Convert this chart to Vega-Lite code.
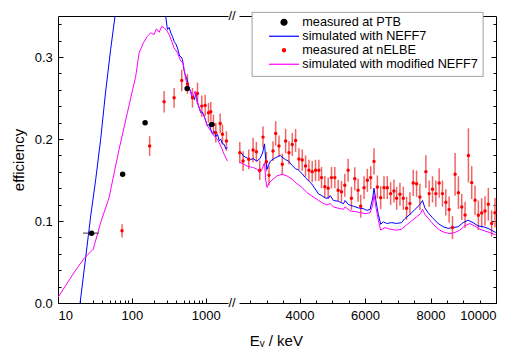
{
  "$schema": "https://vega.github.io/schema/vega-lite/v6.json",
  "padding": {"left": 11, "top": 10, "right": 0, "bottom": 0},
  "config": {
    "font": "Liberation Sans",
    "view": {"stroke": null},
    "axis": {"labelFont": "Liberation Sans", "labelFontSize": 13, "labelColor": "black", "titleFont": "Liberation Sans", "titleFontSize": 15, "titleFontWeight": "normal", "titleColor": "black", "domainColor": "black", "tickColor": "black", "grid": false, "domainWidth": 1, "tickWidth": 1}
  },
  "datasets": {
    "sim": [
      {"s": "simulated with NEFF7", "E": 19.9, "eff": 0},
      {"s": "simulated with NEFF7", "E": 23.7, "eff": 0.0555},
      {"s": "simulated with NEFF7", "E": 27.7, "eff": 0.1062},
      {"s": "simulated with NEFF7", "E": 32.4, "eff": 0.1509},
      {"s": "simulated with NEFF7", "E": 37.8, "eff": 0.1996},
      {"s": "simulated with NEFF7", "E": 44.2, "eff": 0.2584},
      {"s": "simulated with NEFF7", "E": 51.6, "eff": 0.3091},
      {"s": "simulated with NEFF7", "E": 59.1, "eff": 0.3497},
      {"s": "simulated with NEFF7", "E": 66, "eff": 0.39},
      {"s": "simulated with NEFF7", "E": 260, "eff": 0.39},
      {"s": "simulated with NEFF7", "E": 287, "eff": 0.3497},
      {"s": "simulated with NEFF7", "E": 303, "eff": 0.3335},
      {"s": "simulated with NEFF7", "E": 320, "eff": 0.336},
      {"s": "simulated with NEFF7", "E": 336, "eff": 0.3294},
      {"s": "simulated with NEFF7", "E": 355, "eff": 0.325},
      {"s": "simulated with NEFF7", "E": 373, "eff": 0.319},
      {"s": "simulated with NEFF7", "E": 394, "eff": 0.316},
      {"s": "simulated with NEFF7", "E": 414, "eff": 0.311},
      {"s": "simulated with NEFF7", "E": 430, "eff": 0.305},
      {"s": "simulated with NEFF7", "E": 445, "eff": 0.301},
      {"s": "simulated with NEFF7", "E": 465, "eff": 0.300},
      {"s": "simulated with NEFF7", "E": 484, "eff": 0.297},
      {"s": "simulated with NEFF7", "E": 505, "eff": 0.285},
      {"s": "simulated with NEFF7", "E": 526, "eff": 0.2787},
      {"s": "simulated with NEFF7", "E": 545, "eff": 0.275},
      {"s": "simulated with NEFF7", "E": 565, "eff": 0.2705},
      {"s": "simulated with NEFF7", "E": 595, "eff": 0.262},
      {"s": "simulated with NEFF7", "E": 627, "eff": 0.2584},
      {"s": "simulated with NEFF7", "E": 650, "eff": 0.250},
      {"s": "simulated with NEFF7", "E": 675, "eff": 0.2523},
      {"s": "simulated with NEFF7", "E": 705, "eff": 0.248},
      {"s": "simulated with NEFF7", "E": 733, "eff": 0.2563},
      {"s": "simulated with NEFF7", "E": 765, "eff": 0.246},
      {"s": "simulated with NEFF7", "E": 797, "eff": 0.2401},
      {"s": "simulated with NEFF7", "E": 825, "eff": 0.236},
      {"s": "simulated with NEFF7", "E": 856, "eff": 0.232},
      {"s": "simulated with NEFF7", "E": 900, "eff": 0.233},
      {"s": "simulated with NEFF7", "E": 950, "eff": 0.228},
      {"s": "simulated with NEFF7", "E": 1000, "eff": 0.222},
      {"s": "simulated with NEFF7", "E": 1054, "eff": 0.2158},
      {"s": "simulated with NEFF7", "E": 1110, "eff": 0.218},
      {"s": "simulated with NEFF7", "E": 1169, "eff": 0.2117},
      {"s": "simulated with NEFF7", "E": 1230, "eff": 0.206},
      {"s": "simulated with NEFF7", "E": 1300, "eff": 0.2097},
      {"s": "simulated with NEFF7", "E": 1370, "eff": 0.203},
      {"s": "simulated with NEFF7", "E": 1442, "eff": 0.2057},
      {"s": "simulated with NEFF7", "E": 1520, "eff": 0.198},
      {"s": "simulated with NEFF7", "E": 1597, "eff": 0.1996},
      {"s": "simulated with NEFF7", "E": 1680, "eff": 0.194},
      {"s": "simulated with NEFF7", "E": 1774, "eff": 0.1935},
      {"s": "simulated with NEFF7", "E": 1870, "eff": 0.188},
      {"s": "simulated with NEFF7", "E": 1968, "eff": 0.1894},
      {"s": "simulated with NEFF7", "E": 2160, "eff": 0.184},
      {"s": "simulated with NEFF7", "E": 2240, "eff": 0.182},
      {"s": "simulated with NEFF7", "E": 2290, "eff": 0.179},
      {"s": "simulated with NEFF7", "E": 2390, "eff": 0.177},
      {"s": "simulated with NEFF7", "E": 2490, "eff": 0.175},
      {"s": "simulated with NEFF7", "E": 2590, "eff": 0.176},
      {"s": "simulated with NEFF7", "E": 2690, "eff": 0.173},
      {"s": "simulated with NEFF7", "E": 2790, "eff": 0.176},
      {"s": "simulated with NEFF7", "E": 2870, "eff": 0.183},
      {"s": "simulated with NEFF7", "E": 2930, "eff": 0.194},
      {"s": "simulated with NEFF7", "E": 2965, "eff": 0.175},
      {"s": "simulated with NEFF7", "E": 3006, "eff": 0.163},
      {"s": "simulated with NEFF7", "E": 3050, "eff": 0.168},
      {"s": "simulated with NEFF7", "E": 3108, "eff": 0.173},
      {"s": "simulated with NEFF7", "E": 3209, "eff": 0.176},
      {"s": "simulated with NEFF7", "E": 3311, "eff": 0.178},
      {"s": "simulated with NEFF7", "E": 3410, "eff": 0.180},
      {"s": "simulated with NEFF7", "E": 3463, "eff": 0.178},
      {"s": "simulated with NEFF7", "E": 3564, "eff": 0.175},
      {"s": "simulated with NEFF7", "E": 3666, "eff": 0.173},
      {"s": "simulated with NEFF7", "E": 3767, "eff": 0.168},
      {"s": "simulated with NEFF7", "E": 3869, "eff": 0.164},
      {"s": "simulated with NEFF7", "E": 3970, "eff": 0.162},
      {"s": "simulated with NEFF7", "E": 4072, "eff": 0.158},
      {"s": "simulated with NEFF7", "E": 4173, "eff": 0.153},
      {"s": "simulated with NEFF7", "E": 4275, "eff": 0.149},
      {"s": "simulated with NEFF7", "E": 4376, "eff": 0.145},
      {"s": "simulated with NEFF7", "E": 4478, "eff": 0.139},
      {"s": "simulated with NEFF7", "E": 4579, "eff": 0.133},
      {"s": "simulated with NEFF7", "E": 4681, "eff": 0.131},
      {"s": "simulated with NEFF7", "E": 4782, "eff": 0.128},
      {"s": "simulated with NEFF7", "E": 4884, "eff": 0.128},
      {"s": "simulated with NEFF7", "E": 4935, "eff": 0.131},
      {"s": "simulated with NEFF7", "E": 5036, "eff": 0.125},
      {"s": "simulated with NEFF7", "E": 5188, "eff": 0.124},
      {"s": "simulated with NEFF7", "E": 5341, "eff": 0.121},
      {"s": "simulated with NEFF7", "E": 5391, "eff": 0.125},
      {"s": "simulated with NEFF7", "E": 5493, "eff": 0.120},
      {"s": "simulated with NEFF7", "E": 5645, "eff": 0.118},
      {"s": "simulated with NEFF7", "E": 5797, "eff": 0.116},
      {"s": "simulated with NEFF7", "E": 5949, "eff": 0.115},
      {"s": "simulated with NEFF7", "E": 6051, "eff": 0.113},
      {"s": "simulated with NEFF7", "E": 6153, "eff": 0.114},
      {"s": "simulated with NEFF7", "E": 6234, "eff": 0.128},
      {"s": "simulated with NEFF7", "E": 6274, "eff": 0.140},
      {"s": "simulated with NEFF7", "E": 6335, "eff": 0.124},
      {"s": "simulated with NEFF7", "E": 6406, "eff": 0.108},
      {"s": "simulated with NEFF7", "E": 6477, "eff": 0.096},
      {"s": "simulated with NEFF7", "E": 6558, "eff": 0.099},
      {"s": "simulated with NEFF7", "E": 6660, "eff": 0.097},
      {"s": "simulated with NEFF7", "E": 6812, "eff": 0.098},
      {"s": "simulated with NEFF7", "E": 6965, "eff": 0.097},
      {"s": "simulated with NEFF7", "E": 7117, "eff": 0.098},
      {"s": "simulated with NEFF7", "E": 7218, "eff": 0.103},
      {"s": "simulated with NEFF7", "E": 7371, "eff": 0.108},
      {"s": "simulated with NEFF7", "E": 7523, "eff": 0.114},
      {"s": "simulated with NEFF7", "E": 7675, "eff": 0.120},
      {"s": "simulated with NEFF7", "E": 7756, "eff": 0.125},
      {"s": "simulated with NEFF7", "E": 7827, "eff": 0.116},
      {"s": "simulated with NEFF7", "E": 7929, "eff": 0.110},
      {"s": "simulated with NEFF7", "E": 8081, "eff": 0.103},
      {"s": "simulated with NEFF7", "E": 8233, "eff": 0.097},
      {"s": "simulated with NEFF7", "E": 8386, "eff": 0.093},
      {"s": "simulated with NEFF7", "E": 8538, "eff": 0.091},
      {"s": "simulated with NEFF7", "E": 8690, "eff": 0.092},
      {"s": "simulated with NEFF7", "E": 8842, "eff": 0.093},
      {"s": "simulated with NEFF7", "E": 8995, "eff": 0.098},
      {"s": "simulated with NEFF7", "E": 9147, "eff": 0.101},
      {"s": "simulated with NEFF7", "E": 9299, "eff": 0.098},
      {"s": "simulated with NEFF7", "E": 9451, "eff": 0.094},
      {"s": "simulated with NEFF7", "E": 9604, "eff": 0.093},
      {"s": "simulated with NEFF7", "E": 9756, "eff": 0.091},
      {"s": "simulated with NEFF7", "E": 9990, "eff": 0.086},
      {"s": "simulated with modified NEFF7", "E": 10, "eff": 0.0068},
      {"s": "simulated with modified NEFF7", "E": 16.5, "eff": 0.0372},
      {"s": "simulated with modified NEFF7", "E": 22.5, "eff": 0.0543},
      {"s": "simulated with modified NEFF7", "E": 30, "eff": 0.0657},
      {"s": "simulated with modified NEFF7", "E": 37.8, "eff": 0.0981},
      {"s": "simulated with modified NEFF7", "E": 49.1, "eff": 0.1285},
      {"s": "simulated with modified NEFF7", "E": 67.1, "eff": 0.1874},
      {"s": "simulated with modified NEFF7", "E": 86.9, "eff": 0.232},
      {"s": "simulated with modified NEFF7", "E": 112.7, "eff": 0.2766},
      {"s": "simulated with modified NEFF7", "E": 125.2, "eff": 0.305},
      {"s": "simulated with modified NEFF7", "E": 143, "eff": 0.3172},
      {"s": "simulated with modified NEFF7", "E": 162, "eff": 0.3253},
      {"s": "simulated with modified NEFF7", "E": 180, "eff": 0.3294},
      {"s": "simulated with modified NEFF7", "E": 200, "eff": 0.3274},
      {"s": "simulated with modified NEFF7", "E": 215, "eff": 0.3343},
      {"s": "simulated with modified NEFF7", "E": 234, "eff": 0.3302},
      {"s": "simulated with modified NEFF7", "E": 254, "eff": 0.3375},
      {"s": "simulated with modified NEFF7", "E": 273, "eff": 0.3354},
      {"s": "simulated with modified NEFF7", "E": 293, "eff": 0.333},
      {"s": "simulated with modified NEFF7", "E": 319, "eff": 0.3274},
      {"s": "simulated with modified NEFF7", "E": 346, "eff": 0.3192},
      {"s": "simulated with modified NEFF7", "E": 373, "eff": 0.311},
      {"s": "simulated with modified NEFF7", "E": 414, "eff": 0.305},
      {"s": "simulated with modified NEFF7", "E": 459, "eff": 0.2949},
      {"s": "simulated with modified NEFF7", "E": 494, "eff": 0.2928},
      {"s": "simulated with modified NEFF7", "E": 536, "eff": 0.2726},
      {"s": "simulated with modified NEFF7", "E": 596, "eff": 0.2624},
      {"s": "simulated with modified NEFF7", "E": 661, "eff": 0.2502},
      {"s": "simulated with modified NEFF7", "E": 718, "eff": 0.2584},
      {"s": "simulated with modified NEFF7", "E": 773, "eff": 0.2441},
      {"s": "simulated with modified NEFF7", "E": 856, "eff": 0.234},
      {"s": "simulated with modified NEFF7", "E": 950, "eff": 0.228},
      {"s": "simulated with modified NEFF7", "E": 1054, "eff": 0.2158},
      {"s": "simulated with modified NEFF7", "E": 1169, "eff": 0.2097},
      {"s": "simulated with modified NEFF7", "E": 1300, "eff": 0.2036},
      {"s": "simulated with modified NEFF7", "E": 1442, "eff": 0.1996},
      {"s": "simulated with modified NEFF7", "E": 1597, "eff": 0.1914},
      {"s": "simulated with modified NEFF7", "E": 1774, "eff": 0.1813},
      {"s": "simulated with modified NEFF7", "E": 1968, "eff": 0.1732},
      {"s": "simulated with modified NEFF7", "E": 2160, "eff": 0.172},
      {"s": "simulated with modified NEFF7", "E": 2250, "eff": 0.170},
      {"s": "simulated with modified NEFF7", "E": 2300, "eff": 0.169},
      {"s": "simulated with modified NEFF7", "E": 2400, "eff": 0.167},
      {"s": "simulated with modified NEFF7", "E": 2499, "eff": 0.166},
      {"s": "simulated with modified NEFF7", "E": 2600, "eff": 0.165},
      {"s": "simulated with modified NEFF7", "E": 2702, "eff": 0.163},
      {"s": "simulated with modified NEFF7", "E": 2783, "eff": 0.159},
      {"s": "simulated with modified NEFF7", "E": 2850, "eff": 0.163},
      {"s": "simulated with modified NEFF7", "E": 2930, "eff": 0.171},
      {"s": "simulated with modified NEFF7", "E": 2965, "eff": 0.150},
      {"s": "simulated with modified NEFF7", "E": 3006, "eff": 0.141},
      {"s": "simulated with modified NEFF7", "E": 3060, "eff": 0.146},
      {"s": "simulated with modified NEFF7", "E": 3158, "eff": 0.150},
      {"s": "simulated with modified NEFF7", "E": 3311, "eff": 0.155},
      {"s": "simulated with modified NEFF7", "E": 3463, "eff": 0.157},
      {"s": "simulated with modified NEFF7", "E": 3615, "eff": 0.155},
      {"s": "simulated with modified NEFF7", "E": 3767, "eff": 0.151},
      {"s": "simulated with modified NEFF7", "E": 3920, "eff": 0.1455},
      {"s": "simulated with modified NEFF7", "E": 4072, "eff": 0.141},
      {"s": "simulated with modified NEFF7", "E": 4224, "eff": 0.1346},
      {"s": "simulated with modified NEFF7", "E": 4376, "eff": 0.1305},
      {"s": "simulated with modified NEFF7", "E": 4529, "eff": 0.1265},
      {"s": "simulated with modified NEFF7", "E": 4681, "eff": 0.1224},
      {"s": "simulated with modified NEFF7", "E": 4833, "eff": 0.1196},
      {"s": "simulated with modified NEFF7", "E": 4935, "eff": 0.1212},
      {"s": "simulated with modified NEFF7", "E": 5036, "eff": 0.1172},
      {"s": "simulated with modified NEFF7", "E": 5188, "eff": 0.1155},
      {"s": "simulated with modified NEFF7", "E": 5341, "eff": 0.1143},
      {"s": "simulated with modified NEFF7", "E": 5391, "eff": 0.1172},
      {"s": "simulated with modified NEFF7", "E": 5544, "eff": 0.1123},
      {"s": "simulated with modified NEFF7", "E": 5696, "eff": 0.1115},
      {"s": "simulated with modified NEFF7", "E": 5848, "eff": 0.1103},
      {"s": "simulated with modified NEFF7", "E": 6000, "eff": 0.109},
      {"s": "simulated with modified NEFF7", "E": 6153, "eff": 0.110},
      {"s": "simulated with modified NEFF7", "E": 6234, "eff": 0.1196},
      {"s": "simulated with modified NEFF7", "E": 6274, "eff": 0.1326},
      {"s": "simulated with modified NEFF7", "E": 6335, "eff": 0.1163},
      {"s": "simulated with modified NEFF7", "E": 6406, "eff": 0.1009},
      {"s": "simulated with modified NEFF7", "E": 6477, "eff": 0.0888},
      {"s": "simulated with modified NEFF7", "E": 6610, "eff": 0.092},
      {"s": "simulated with modified NEFF7", "E": 6762, "eff": 0.090},
      {"s": "simulated with modified NEFF7", "E": 6965, "eff": 0.0888},
      {"s": "simulated with modified NEFF7", "E": 7117, "eff": 0.090},
      {"s": "simulated with modified NEFF7", "E": 7269, "eff": 0.0953},
      {"s": "simulated with modified NEFF7", "E": 7422, "eff": 0.1001},
      {"s": "simulated with modified NEFF7", "E": 7574, "eff": 0.105},
      {"s": "simulated with modified NEFF7", "E": 7695, "eff": 0.109},
      {"s": "simulated with modified NEFF7", "E": 7756, "eff": 0.1143},
      {"s": "simulated with modified NEFF7", "E": 7827, "eff": 0.1082},
      {"s": "simulated with modified NEFF7", "E": 7980, "eff": 0.1009},
      {"s": "simulated with modified NEFF7", "E": 8132, "eff": 0.094},
      {"s": "simulated with modified NEFF7", "E": 8284, "eff": 0.0888},
      {"s": "simulated with modified NEFF7", "E": 8436, "eff": 0.0859},
      {"s": "simulated with modified NEFF7", "E": 8589, "eff": 0.0847},
      {"s": "simulated with modified NEFF7", "E": 8741, "eff": 0.0859},
      {"s": "simulated with modified NEFF7", "E": 8893, "eff": 0.0888},
      {"s": "simulated with modified NEFF7", "E": 9045, "eff": 0.094},
      {"s": "simulated with modified NEFF7", "E": 9198, "eff": 0.0969},
      {"s": "simulated with modified NEFF7", "E": 9350, "eff": 0.094},
      {"s": "simulated with modified NEFF7", "E": 9502, "eff": 0.090},
      {"s": "simulated with modified NEFF7", "E": 9654, "eff": 0.088},
      {"s": "simulated with modified NEFF7", "E": 9807, "eff": 0.0859},
      {"s": "simulated with modified NEFF7", "E": 9990, "eff": 0.0831}
    ],
    "ptb": [
      {"s": "measured at PTB", "E": 28.5, "eff": 0.0852, "Elo": 21.8, "Ehi": 36.0},
      {"s": "measured at PTB", "E": 75, "eff": 0.157},
      {"s": "measured at PTB", "E": 151, "eff": 0.2198},
      {"s": "measured at PTB", "E": 560, "eff": 0.2617},
      {"s": "measured at PTB", "E": 1205, "eff": 0.2178}
    ],
    "elbe": [
      {"s": "measured at nELBE", "E": 73.6, "eff": 0.088, "err": 0.008},
      {"s": "measured at nELBE", "E": 174, "eff": 0.1914, "err": 0.012},
      {"s": "measured at nELBE", "E": 273, "eff": 0.2454, "err": 0.013},
      {"s": "measured at nELBE", "E": 373, "eff": 0.2502, "err": 0.012},
      {"s": "measured at nELBE", "E": 473, "eff": 0.2714, "err": 0.013},
      {"s": "measured at nELBE", "E": 565, "eff": 0.267, "err": 0.012},
      {"s": "measured at nELBE", "E": 661, "eff": 0.2502, "err": 0.012},
      {"s": "measured at nELBE", "E": 773, "eff": 0.2556, "err": 0.013},
      {"s": "measured at nELBE", "E": 883, "eff": 0.2401, "err": 0.013},
      {"s": "measured at nELBE", "E": 982, "eff": 0.241, "err": 0.013},
      {"s": "measured at nELBE", "E": 1089, "eff": 0.232, "err": 0.012},
      {"s": "measured at nELBE", "E": 1170, "eff": 0.2332, "err": 0.012},
      {"s": "measured at nELBE", "E": 1271, "eff": 0.2178, "err": 0.012},
      {"s": "measured at nELBE", "E": 1368, "eff": 0.2076, "err": 0.012},
      {"s": "measured at nELBE", "E": 1568, "eff": 0.219, "err": 0.012},
      {"s": "measured at nELBE", "E": 1683, "eff": 0.2057, "err": 0.012},
      {"s": "measured at nELBE", "E": 1906, "eff": 0.1975, "err": 0.012},
      {"s": "measured at nELBE", "E": 2174, "eff": 0.1833, "err": 0.013},
      {"s": "measured at nELBE", "E": 2275, "eff": 0.1731, "err": 0.012},
      {"s": "measured at nELBE", "E": 2448, "eff": 0.1752, "err": 0.012},
      {"s": "measured at nELBE", "E": 2580, "eff": 0.1865, "err": 0.015},
      {"s": "measured at nELBE", "E": 2681, "eff": 0.1845, "err": 0.012},
      {"s": "measured at nELBE", "E": 2783, "eff": 0.1618, "err": 0.012},
      {"s": "measured at nELBE", "E": 2884, "eff": 0.2023, "err": 0.013},
      {"s": "measured at nELBE", "E": 2986, "eff": 0.1723, "err": 0.012},
      {"s": "measured at nELBE", "E": 3067, "eff": 0.1557, "err": 0.012},
      {"s": "measured at nELBE", "E": 3189, "eff": 0.1853, "err": 0.012},
      {"s": "measured at nELBE", "E": 3270, "eff": 0.2068, "err": 0.015},
      {"s": "measured at nELBE", "E": 3371, "eff": 0.1914, "err": 0.013},
      {"s": "measured at nELBE", "E": 3473, "eff": 0.1691, "err": 0.013},
      {"s": "measured at nELBE", "E": 3574, "eff": 0.1975, "err": 0.015},
      {"s": "measured at nELBE", "E": 3676, "eff": 0.1833, "err": 0.014},
      {"s": "measured at nELBE", "E": 3777, "eff": 0.1934, "err": 0.014},
      {"s": "measured at nELBE", "E": 3879, "eff": 0.1983, "err": 0.014},
      {"s": "measured at nELBE", "E": 3980, "eff": 0.1756, "err": 0.013},
      {"s": "measured at nELBE", "E": 4082, "eff": 0.1743, "err": 0.013},
      {"s": "measured at nELBE", "E": 4183, "eff": 0.1670, "err": 0.013},
      {"s": "measured at nELBE", "E": 4285, "eff": 0.1618, "err": 0.013},
      {"s": "measured at nELBE", "E": 4386, "eff": 0.1602, "err": 0.013},
      {"s": "measured at nELBE", "E": 4488, "eff": 0.1618, "err": 0.013},
      {"s": "measured at nELBE", "E": 4589, "eff": 0.1618, "err": 0.013},
      {"s": "measured at nELBE", "E": 4671, "eff": 0.1529, "err": 0.013},
      {"s": "measured at nELBE", "E": 4772, "eff": 0.1419, "err": 0.013},
      {"s": "measured at nELBE", "E": 4874, "eff": 0.1399, "err": 0.013},
      {"s": "measured at nELBE", "E": 4975, "eff": 0.1529, "err": 0.013},
      {"s": "measured at nELBE", "E": 5077, "eff": 0.1529, "err": 0.013},
      {"s": "measured at nELBE", "E": 5178, "eff": 0.1374, "err": 0.013},
      {"s": "measured at nELBE", "E": 5280, "eff": 0.1358, "err": 0.013},
      {"s": "measured at nELBE", "E": 5381, "eff": 0.1435, "err": 0.014},
      {"s": "measured at nELBE", "E": 5483, "eff": 0.1618, "err": 0.014},
      {"s": "measured at nELBE", "E": 5584, "eff": 0.1277, "err": 0.014},
      {"s": "measured at nELBE", "E": 5686, "eff": 0.1516, "err": 0.014},
      {"s": "measured at nELBE", "E": 5787, "eff": 0.1374, "err": 0.014},
      {"s": "measured at nELBE", "E": 5868, "eff": 0.1180, "err": 0.014},
      {"s": "measured at nELBE", "E": 5970, "eff": 0.1407, "err": 0.014},
      {"s": "measured at nELBE", "E": 6071, "eff": 0.1496, "err": 0.014},
      {"s": "measured at nELBE", "E": 6173, "eff": 0.1529, "err": 0.014},
      {"s": "measured at nELBE", "E": 6274, "eff": 0.1727, "err": 0.016},
      {"s": "measured at nELBE", "E": 6376, "eff": 0.1415, "err": 0.014},
      {"s": "measured at nELBE", "E": 6477, "eff": 0.1285, "err": 0.014},
      {"s": "measured at nELBE", "E": 6579, "eff": 0.1407, "err": 0.014},
      {"s": "measured at nELBE", "E": 6680, "eff": 0.1407, "err": 0.014},
      {"s": "measured at nELBE", "E": 6782, "eff": 0.1334, "err": 0.014},
      {"s": "measured at nELBE", "E": 6883, "eff": 0.1366, "err": 0.014},
      {"s": "measured at nELBE", "E": 6965, "eff": 0.1277, "err": 0.014},
      {"s": "measured at nELBE", "E": 7066, "eff": 0.1326, "err": 0.014},
      {"s": "measured at nELBE", "E": 7168, "eff": 0.1277, "err": 0.014},
      {"s": "measured at nELBE", "E": 7269, "eff": 0.1155, "err": 0.014},
      {"s": "measured at nELBE", "E": 7371, "eff": 0.1212, "err": 0.014},
      {"s": "measured at nELBE", "E": 7472, "eff": 0.1464, "err": 0.016},
      {"s": "measured at nELBE", "E": 7574, "eff": 0.1455, "err": 0.016},
      {"s": "measured at nELBE", "E": 7675, "eff": 0.1293, "err": 0.016},
      {"s": "measured at nELBE", "E": 7858, "eff": 0.1602, "err": 0.02},
      {"s": "measured at nELBE", "E": 7959, "eff": 0.1334, "err": 0.016},
      {"s": "measured at nELBE", "E": 8061, "eff": 0.1386, "err": 0.016},
      {"s": "measured at nELBE", "E": 8162, "eff": 0.1334, "err": 0.016},
      {"s": "measured at nELBE", "E": 8264, "eff": 0.1464, "err": 0.018},
      {"s": "measured at nELBE", "E": 8365, "eff": 0.1334, "err": 0.016},
      {"s": "measured at nELBE", "E": 8467, "eff": 0.1228, "err": 0.016},
      {"s": "measured at nELBE", "E": 8568, "eff": 0.1139, "err": 0.016},
      {"s": "measured at nELBE", "E": 8670, "eff": 0.0920, "err": 0.014},
      {"s": "measured at nELBE", "E": 8751, "eff": 0.1569, "err": 0.026},
      {"s": "measured at nELBE", "E": 8852, "eff": 0.1346, "err": 0.02},
      {"s": "measured at nELBE", "E": 8954, "eff": 0.1172, "err": 0.016},
      {"s": "measured at nELBE", "E": 9055, "eff": 0.1074, "err": 0.016},
      {"s": "measured at nELBE", "E": 9157, "eff": 0.1800, "err": 0.033},
      {"s": "measured at nELBE", "E": 9258, "eff": 0.1468, "err": 0.02},
      {"s": "measured at nELBE", "E": 9360, "eff": 0.1253, "err": 0.018},
      {"s": "measured at nELBE", "E": 9461, "eff": 0.1070, "err": 0.018},
      {"s": "measured at nELBE", "E": 9563, "eff": 0.1098, "err": 0.018},
      {"s": "measured at nELBE", "E": 9664, "eff": 0.1123, "err": 0.018},
      {"s": "measured at nELBE", "E": 9766, "eff": 0.1204, "err": 0.02},
      {"s": "measured at nELBE", "E": 9867, "eff": 0.0969, "err": 0.016},
      {"s": "measured at nELBE", "E": 9969, "eff": 0.1102, "err": 0.018}
    ],
    "brk": [
      {"E": 2000, "eff": 0},
      {"E": 2000, "eff": 0.35}
    ]
  },
  "spacing": 11,
  "bounds": "flush",
  "resolve": {"scale": {"color": "independent"}},
  "hconcat": [
    {
      "width": 170,
      "height": 287,
      "resolve": {"axis": {"x": "independent", "y": "independent"}},
      "layer": [
        {
          "data": {"name": "elbe"},
          "transform": [{"filter": "datum.E <= 2000"}],
          "mark": {"type": "errorbar", "color": "#f06666", "thickness": 1.5},
          "encoding": {
            "x": {"field": "E", "type": "quantitative", "scale": {"type": "log", "domain": [10, 2000], "nice": false}, "axis": null},
            "y": {"field": "eff", "type": "quantitative", "scale": {"domain": [0, 0.35], "nice": false}, "axis": null},
            "yError": {"field": "err"}
          }
        },
        {
          "data": {"name": "sim"},
          "transform": [{"filter": "datum.E <= 2000"}],
          "mark": {"type": "line", "clip": true, "strokeWidth": 1},
          "encoding": {
            "x": {"field": "E", "type": "quantitative", "scale": {"type": "log", "domain": [10, 2000], "nice": false},
                  "axis": {"orient": "bottom", "values": [10, 100, 1000], "format": "d", "tickSize": -5, "labelPadding": 11, "title": null}},
            "y": {"field": "eff", "type": "quantitative", "scale": {"domain": [0, 0.35], "nice": false},
                  "axis": {"orient": "left", "values": [0, 0.1, 0.2, 0.3], "format": ".1f", "tickSize": -5, "labelPadding": 10.7, "title": "efficiency", "titlePadding": 8}},
            "color": {"field": "s", "type": "nominal",
                      "scale": {"domain": ["measured at PTB", "simulated with NEFF7", "measured at nELBE", "simulated with modified NEFF7"], "range": ["#000000", "#0000ff", "#ff0000", "#ff00ff"]},
                      "legend": null}
          }
        },
        {
          "data": {"name": "elbe"},
          "transform": [{"filter": "datum.E <= 2000"}],
          "mark": {"type": "point", "filled": true, "size": 12, "opacity": 1},
          "encoding": {
            "x": {"field": "E", "type": "quantitative", "scale": {"type": "log", "domain": [10, 2000], "nice": false},
                  "axis": {"orient": "bottom", "values": [20, 30, 40, 50, 60, 70, 80, 90, 200, 300, 400, 500, 600, 700, 800, 900], "labels": false, "domain": false, "tickSize": -3, "title": null}},
            "y": {"field": "eff", "type": "quantitative", "scale": {"domain": [0, 0.35], "nice": false},
                  "axis": {"orient": "left", "values": [0.02, 0.04, 0.06, 0.08, 0.12, 0.14, 0.16, 0.18, 0.22, 0.24, 0.26, 0.28, 0.32, 0.34], "labels": false, "domain": false, "tickSize": -3, "title": null}},
            "color": {"field": "s", "type": "nominal", "legend": null}
          }
        },
        {
          "data": {"name": "ptb"},
          "transform": [{"filter": "isValid(datum.Elo)"}],
          "mark": {"type": "rule", "color": "#333333", "strokeWidth": 1},
          "encoding": {
            "x": {"field": "Elo", "type": "quantitative", "scale": {"type": "log", "domain": [10, 2000], "nice": false},
                  "axis": {"orient": "top", "labels": false, "ticks": false, "domain": true, "title": null}},
            "x2": {"field": "Ehi"},
            "y": {"field": "eff", "type": "quantitative", "scale": {"domain": [0, 0.35], "nice": false}, "axis": null}
          }
        },
        {
          "data": {"name": "ptb"},
          "mark": {"type": "point", "filled": true, "size": 30, "opacity": 1},
          "encoding": {
            "x": {"field": "E", "type": "quantitative", "scale": {"type": "log", "domain": [10, 2000], "nice": false}, "axis": null},
            "y": {"field": "eff", "type": "quantitative", "scale": {"domain": [0, 0.35], "nice": false}, "axis": null},
            "color": {"field": "s", "type": "nominal", "legend": null}
          }
        },
        {
          "data": {"name": "brk"},
          "mark": {"type": "text", "text": "//", "fontSize": 13, "dx": 4, "align": "center", "baseline": "middle", "color": "black", "clip": false},
          "encoding": {
            "x": {"field": "E", "type": "quantitative", "scale": {"type": "log", "domain": [10, 2000], "nice": false}, "axis": null},
            "y": {"field": "eff", "type": "quantitative", "scale": {"domain": [0, 0.35], "nice": false}, "axis": null}
          }
        }
      ]
    },
    {
      "width": 257,
      "height": 287,
      "resolve": {"axis": {"x": "independent", "y": "independent"}},
      "layer": [
        {
          "data": {"name": "elbe"},
          "transform": [{"filter": "datum.E >= 2150"}],
          "mark": {"type": "errorbar", "color": "#f06666", "thickness": 1.5},
          "encoding": {
            "x": {"field": "E", "type": "quantitative", "scale": {"domain": [2150, 10000], "nice": false}, "axis": null},
            "y": {"field": "eff", "type": "quantitative", "scale": {"domain": [0, 0.35], "nice": false}, "axis": null},
            "yError": {"field": "err"}
          }
        },
        {
          "data": {"name": "sim"},
          "transform": [{"filter": "datum.E >= 2150"}],
          "mark": {"type": "line", "clip": true, "strokeWidth": 1},
          "encoding": {
            "x": {"field": "E", "type": "quantitative", "scale": {"domain": [2150, 10000], "nice": false},
                  "axis": {"orient": "bottom", "values": [4000, 6000, 8000, 10000], "format": "d", "tickSize": -5, "labelPadding": 11, "title": "Eᵧ / keV", "titleX": 36.8, "titleY": 42, "titleAlign": "center", "titleBaseline": "alphabetic"}},
            "y": {"field": "eff", "type": "quantitative", "scale": {"domain": [0, 0.35], "nice": false},
                  "axis": {"orient": "right", "values": [0, 0.1, 0.2, 0.3], "labels": false, "tickSize": -5, "title": null}},
            "color": {"field": "s", "type": "nominal",
                      "scale": {"domain": ["measured at PTB", "simulated with NEFF7", "measured at nELBE", "simulated with modified NEFF7"], "range": ["#000000", "#0000ff", "#ff0000", "#ff00ff"]},
                      "legend": {
                        "title": null, "orient": "none", "legendX": 12.6, "legendY": -4.1,
                        "padding": 4, "fillColor": "white", "strokeColor": "#a0a0a0",
                        "labelFont": "Liberation Sans", "labelFontSize": 12.7, "labelColor": "black", "labelLimit": 400,
                        "symbolSize": 36, "symbolOffset": 22.05, "labelOffset": 11.95, "rowPadding": 0,
                        "labelExpr": "datum.label + '\u00a0\u00a0\u00a0\u00a0\u00a0'",
                        "encode": {
                          "symbols": {
                            "update": {
                              "shape": {"signal": "indexof(['simulated with NEFF7','simulated with modified NEFF7'], datum.value) >= 0 ? 'M-5,0H5' : 'circle'"},
                              "size": {"signal": "datum.value == 'measured at nELBE' ? 10 : 36"},
                              "fill": {"signal": "datum.value == 'measured at PTB' ? '#000000' : datum.value == 'measured at nELBE' ? '#ff0000' : 'transparent'"},
                              "stroke": {"signal": "datum.value == 'simulated with NEFF7' ? '#0000ff' : datum.value == 'simulated with modified NEFF7' ? '#ff00ff' : 'transparent'"},
                              "strokeWidth": {"value": 1.2},
                              "opacity": {"value": 1}
                            }
                          }
                        }
                      }}
          }
        },
        {
          "data": {"name": "elbe"},
          "transform": [{"filter": "datum.E >= 2150"}],
          "mark": {"type": "point", "filled": true, "size": 12, "opacity": 1},
          "encoding": {
            "x": {"field": "E", "type": "quantitative", "scale": {"domain": [2150, 10000], "nice": false},
                  "axis": {"orient": "bottom", "values": [2500, 3000, 3500, 4500, 5000, 5500, 6500, 7000, 7500, 8500, 9000, 9500], "labels": false, "domain": false, "tickSize": -3, "title": null}},
            "y": {"field": "eff", "type": "quantitative", "scale": {"domain": [0, 0.35], "nice": false},
                  "axis": {"orient": "right", "values": [0.02, 0.04, 0.06, 0.08, 0.12, 0.14, 0.16, 0.18, 0.22, 0.24, 0.26, 0.28, 0.32, 0.34], "labels": false, "domain": false, "tickSize": -3, "title": null}},
            "color": {"field": "s", "type": "nominal"}
          }
        },
        {
          "data": {"name": "elbe"},
          "transform": [{"filter": "datum.E >= 2150"}],
          "mark": {"type": "point", "filled": true, "size": 0, "opacity": 0},
          "encoding": {
            "x": {"field": "E", "type": "quantitative", "scale": {"domain": [2150, 10000], "nice": false},
                  "axis": {"orient": "top", "labels": false, "ticks": false, "domain": true, "title": null}},
            "y": {"field": "eff", "type": "quantitative", "scale": {"domain": [0, 0.35], "nice": false}, "axis": null}
          }
        }
      ]
    }
  ]
}
